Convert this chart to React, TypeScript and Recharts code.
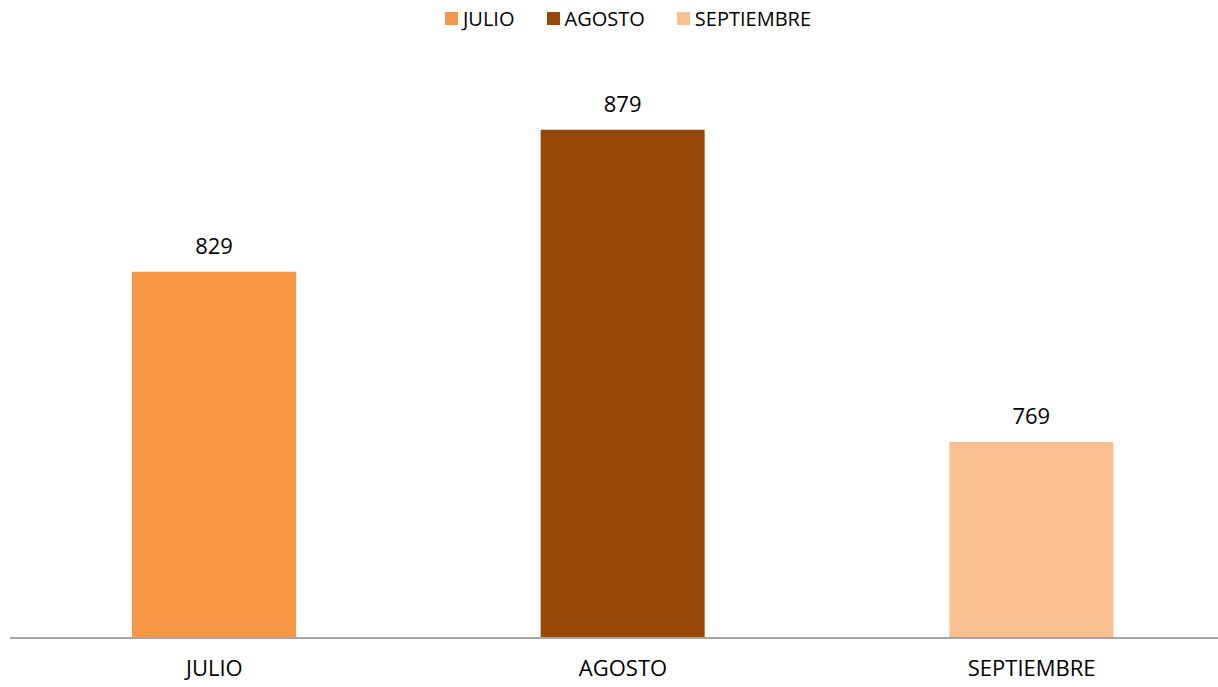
import React from 'react';
import { BarChart, Bar, XAxis, YAxis, Cell, LabelList } from 'recharts';

const months = ['JULIO', 'AGOSTO', 'SEPTIEMBRE'];
const totals = [829, 879, 769];
const colors = ['#F79646', '#974806', '#FAC090'];

const data = months.map((m, i) => ({ month: m, total: totals[i] }));

const FONT = '"Open Sans", Lato, sans-serif';

const Legend: React.FC = () => (
  <div
    style={{
      position: 'absolute',
      top: 5,
      left: 0,
      width: 1256,
      display: 'flex',
      justifyContent: 'center',
      gap: 32,
      fontFamily: FONT,
      fontSize: 20,
      color: '#000',
    }}
  >
    {months.map((m, i) => (
      <div key={m} style={{ display: 'flex', alignItems: 'center', gap: 5 }}>
        <span style={{ width: 13, height: 13, background: colors[i], display: 'inline-block' }} />
        <span>{m}</span>
      </div>
    ))}
  </div>
);

export default function App() {
  return (
    <div style={{ position: 'absolute', left: 0, top: 0, width: 1218, height: 687, overflow: 'hidden', background: '#fff' }}>
      <Legend />
      <BarChart width={1236} height={687} data={data} margin={{ top: 70, right: 0, left: 10, bottom: 0 }}>
        <YAxis hide domain={[700, 900]} type="number" allowDataOverflow />
        <XAxis
          dataKey="month"
          height={49}
          tickLine={false}
          axisLine={{ stroke: '#A6A6A6', strokeWidth: 2 }}
          tick={{ fill: '#000', fontSize: 22, fontFamily: FONT }}
          dy={14}
        />
        <Bar dataKey="total" barSize={164} isAnimationActive={false}>
          {data.map((d, i) => (
            <Cell key={d.month} fill={colors[i]} />
          ))}
          <LabelList dataKey="total" position="top" offset={18} fill="#000" fontSize={22} fontFamily={FONT} />
        </Bar>
      </BarChart>
    </div>
  );
}
